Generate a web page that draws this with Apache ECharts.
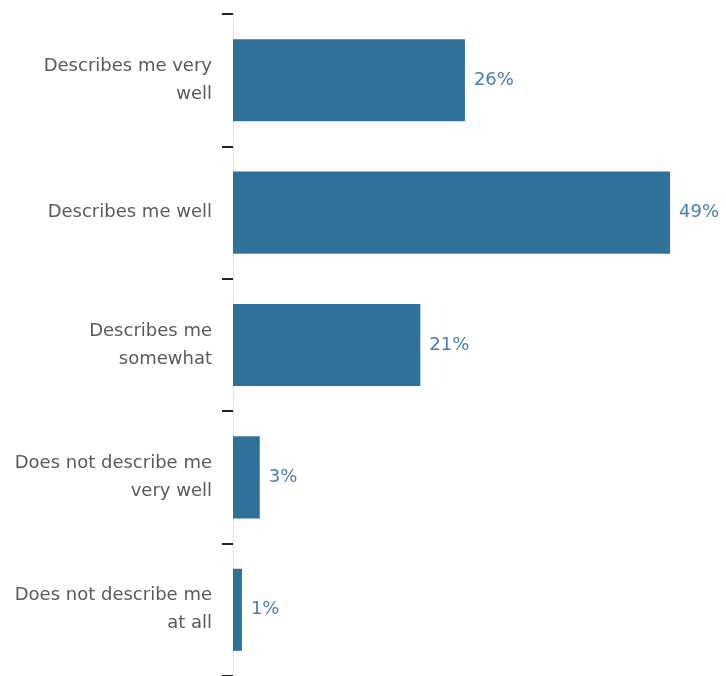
<!DOCTYPE html>
<html>
<head>
<meta charset="utf-8">
<script src="https://cdn.jsdelivr.net/npm/echarts@6/dist/echarts.min.js"></script>
<style>html,body{margin:0;padding:0;background:#fff;}#c{width:726px;height:676px;}</style>
</head>
<body>
<div id="c"></div>
<script>
var categories = ["Describes me very\nwell", "Describes me well", "Describes me\nsomewhat", "Does not describe me\nvery well", "Does not describe me\nat all"];
var values = [26, 49, 21, 3, 1];

var chart = echarts.init(document.getElementById('c'), null, {renderer: 'canvas'});
chart.setOption({
  animation: false,
  grid: {left: 233, top: 14, width: 446, height: 669, containLabel: false},
  xAxis: {type: 'value', min: 0, max: 50, show: false},
  yAxis: {
    type: 'category', data: categories, inverse: true,
    axisLine: {show: true, lineStyle: {color: '#e2e2e2', width: 1}},
    axisTick: {show: true, length: 11, lineStyle: {color: '#222', width: 2}},
    axisLabel: {margin: 21, color: '#5a5a5a', fontSize: 18, lineHeight: 28, fontFamily: 'DejaVu Sans, sans-serif', align: 'right'}
  },
  series: [{
    type: 'bar', data: values, barCategoryGap: '38%',
    itemStyle: {color: '#2f7199'},
    label: {show: true, position: 'right', distance: 9, formatter: '{c}%', color: '#4580b3', fontSize: 18, fontFamily: 'DejaVu Sans, sans-serif'}
  }]
});
</script>
</body>
</html>
